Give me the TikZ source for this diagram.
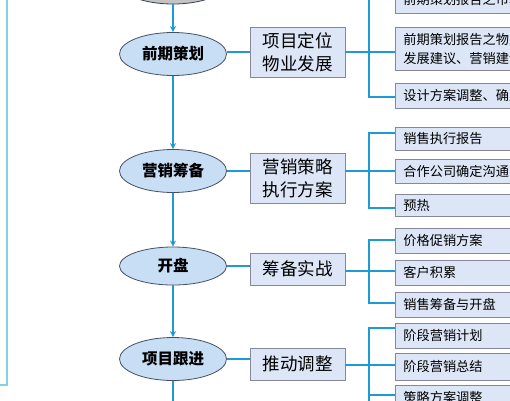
\documentclass[tikz,border=0pt]{standalone}
\usepackage{fontspec}
\setmainfont{Noto Sans CJK SC}
\usetikzlibrary{shapes.geometric,arrows.meta}
\definecolor{linkblue}{RGB}{30,155,215}
\definecolor{ellfill}{RGB}{200,222,245}
\definecolor{elledge}{RGB}{70,80,100}
\definecolor{boxfill}{RGB}{220,230,246}
\definecolor{boxedge}{RGB}{135,135,155}
\definecolor{sideline}{RGB}{130,210,225}
\definecolor{grayfill}{RGB}{195,195,195}
\begin{document}
\begin{tikzpicture}[x=1pt,y=-1pt,
  stage/.style={ellipse, draw=elledge, fill=ellfill, line width=0.8pt, minimum width=107pt, minimum height=43pt, inner sep=0pt, font=\bfseries\fontsize{15.5}{18}\selectfont},
  midbox/.style={rectangle, draw=boxedge, fill=boxfill, line width=0.8pt, minimum width=95pt, inner sep=0pt, align=center, font=\fontsize{17.5}{23}\selectfont},
  subbox/.style={rectangle, draw=boxedge, fill=boxfill, line width=0.8pt, anchor=north west, minimum width=150pt, text width=134pt, inner xsep=8pt, inner ysep=0pt, align=left, font=\fontsize{13.2}{19}\selectfont},
  link/.style={draw=linkblue, line width=1.6pt},
  arr/.style={link, -{Stealth[length=6pt,width=6pt]}}]
\useasboundingbox (0,0) rectangle (510,400);
\clip (0,0) rectangle (510,400);
\fill[white] (0,0) rectangle (510,400);
% left side line
\coordinate (s1) at (7,-5);
\coordinate (s2) at (7,385);
\coordinate (s3) at (-5,385);
\draw[sideline, line width=1.3pt] (s1) -- (s2) -- (s3);
% stages
\node[ellipse, draw=elledge!80!black, fill=grayfill, line width=0.8pt, minimum width=107pt, minimum height=42pt] (g) at (173,-17) {};
\node[stage] (e1) at (173,54) {前期策划};
\node[stage] (e2) at (173,171) {营销筹备};
\node[stage, minimum height=38pt] (e3) at (173,266) {开盘};
\node[stage] (e4) at (173,359) {项目跟进};
\coordinate (eend) at (173,415);
\draw[arr] (g.south) -- (e1.north);
\draw[arr] (e1.south) -- (e2.north);
\draw[arr] (e2.south) -- (e3.north);
\draw[arr] (e3.south) -- (e4.north);
\draw[arr] (e4.south) -- (eend);
% middle boxes
\node[midbox, minimum height=50pt] (m1) at (297.5,52) {项目定位\\物业发展};
\node[midbox, minimum height=50pt] (m2) at (297.5,178) {营销策略\\执行方案};
\node[midbox, minimum height=32pt] (m3) at (297.5,269) {筹备实战};
\node[midbox, minimum height=32pt] (m4) at (297.5,364) {推动调整};
% sub boxes group 1
\node[subbox, minimum height=28pt] (a1) at (395,-15) {前期策划报告之市场研究\\};
\node[subbox, minimum height=43pt] (a2) at (395,27) {前期策划报告之物业\\发展建议、营销建议};
\node[subbox, minimum height=25pt] (a3) at (395,83) {设计方案调整、确定};
% group 2
\node[subbox, minimum height=23pt] (b1) at (395,127) {销售执行报告};
\node[subbox, minimum height=24pt] (b2) at (395,159) {合作公司确定沟通};
\node[subbox, minimum height=22pt] (b3) at (395,194) {预热};
% group 3
\node[subbox, minimum height=25pt] (c1) at (395,228) {价格促销方案};
\node[subbox, minimum height=25pt] (c2) at (395,260) {客户积累};
\node[subbox, minimum height=25pt] (c3) at (395,292) {销售筹备与开盘};
% group 4
\node[subbox, minimum height=25pt] (d1) at (395,323) {阶段营销计划};
\node[subbox, minimum height=27pt] (d2) at (395,353) {阶段营销总结};
\node[subbox, minimum height=25pt] (d3) at (395,385) {策略方案调整};
% stage to middle box
\draw[link] (e1.east |- 0,52) -- (m1.west |- 0,52);
\draw[link] (e2.east) -- (m2.west |- e2.east);
\draw[link] (e3.east) -- (m3.west |- e3.east);
\draw[link] (e4.east) -- (m4.west |- e4.east);
% brackets
\coordinate (k1) at (369,-5);
\draw[link] (m1.east |- 0,52) -- (a2.west |- 0,52);
\draw[link] (k1) -- (369,97) -- (a3.west |- 0,97);
\draw[link] (m2.east |- e2.east) -- (b2.west |- e2.east);
\draw[link] (b1.west |- 0,133) -- (369,133) -- (369,208) -- (b3.west |- 0,208);
\draw[link] (m3.east |- 0,271) -- (c2.west |- 0,271);
\draw[link] (c1.west |- 0,240) -- (369,240) -- (369,303) -- (c3.west |- 0,303);
\draw[link] (m4.east |- 0,365) -- (d2.west |- 0,365);
\draw[link] (d1.west |- 0,328) -- (369,328) -- (369,410);
\draw[link] (369,395) -- (d3.west |- 0,395);
\end{tikzpicture}
\end{document}
